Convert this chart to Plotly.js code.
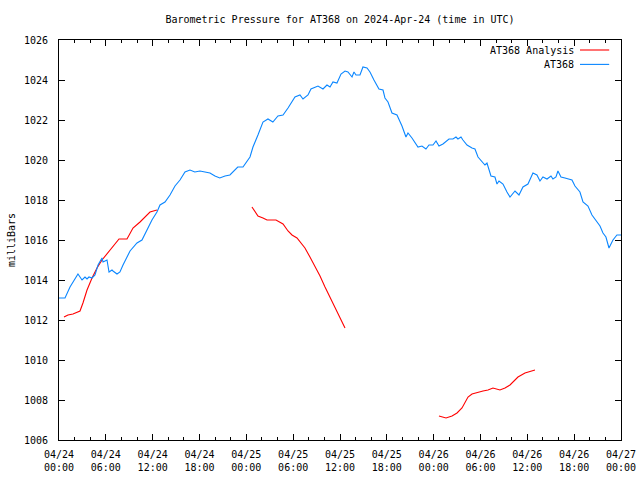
<!DOCTYPE html>
<html>
<head>
<meta charset="utf-8">
<script src="https://cdn.plot.ly/plotly-3.0.1.min.js"></script>
<style>html,body{margin:0;padding:0;background:#fff;}#chart{width:640px;height:480px;}</style>
</head>
<body>
<div id="chart"></div>
<script>
// ---- data (hours after 2024-04-24 00:00 UTC) ----
const baseTime = Date.UTC(2024, 3, 24, 0, 0, 0);

const obsName = "AT368";
const obsHours = [0, 0.77, 1.41, 2.05, 2.43, 2.95, 3.33, 3.59, 3.84, 4.23, 4.61, 5.0, 5.51, 5.64, 6.15, 6.41, 6.79, 6.92, 7.43, 7.81, 8.2, 9.1, 9.48, 9.99, 10.63, 11.27, 11.91, 12.55, 12.94, 13.58, 14.22, 14.86, 15.5, 16.14, 16.78, 17.4, 18.06, 18.7, 19.34, 19.98, 20.6, 21.27, 21.9, 22.9, 23.57, 24.47, 24.85, 25.49, 26.13, 26.77, 27.4, 28.05, 28.7, 29.34, 30.23, 30.87, 31.26, 31.9, 32.28, 33.18, 33.82, 34.33, 34.72, 35.1, 35.61, 36.13, 36.64, 37.02, 37.54, 37.79, 38.05, 38.56, 38.94, 39.46, 39.84, 40.35, 40.99, 41.51, 41.76, 42.15, 42.66, 43.3, 43.94, 44.45, 44.71, 45.22, 45.6, 45.99, 46.5, 47.01, 47.4, 47.91, 48.3, 48.68, 49.19, 49.96, 50.47, 50.86, 51.11, 51.5, 51.75, 52.27, 52.91, 53.29, 53.68, 54.19, 54.57, 54.83, 55.34, 55.85, 56.11, 56.37, 56.88, 57.39, 57.78, 58.42, 58.93, 59.44, 60.08, 60.72, 61.23, 61.62, 62.0, 62.52, 63.03, 63.28, 63.67, 63.92, 64.31, 64.82, 65.2, 65.72, 66.1, 66.74, 67.13, 67.77, 68.28, 68.92, 69.31, 69.69, 70.07, 70.46, 70.97, 71.48, 72.0];
const obsValues = [1013.1, 1013.1, 1013.65, 1014.1, 1014.3, 1014.0, 1014.15, 1014.05, 1014.15, 1014.1, 1014.25, 1014.75, 1015.1, 1014.9, 1015.0, 1014.4, 1014.5, 1014.45, 1014.3, 1014.4, 1014.75, 1015.45, 1015.6, 1015.85, 1016.0, 1016.5, 1017.0, 1017.4, 1017.75, 1017.9, 1018.25, 1018.7, 1019.0, 1019.4, 1019.5, 1019.4, 1019.45, 1019.4, 1019.35, 1019.2, 1019.1, 1019.2, 1019.25, 1019.65, 1019.65, 1020.15, 1020.65, 1021.25, 1021.9, 1022.05, 1021.9, 1022.2, 1022.25, 1022.6, 1023.15, 1023.25, 1023.05, 1023.25, 1023.55, 1023.7, 1023.55, 1023.75, 1023.65, 1023.9, 1023.85, 1024.3, 1024.45, 1024.4, 1024.15, 1024.4, 1024.25, 1024.25, 1024.65, 1024.6, 1024.4, 1024.0, 1023.55, 1023.5, 1023.1, 1022.9, 1022.35, 1022.25, 1021.7, 1021.15, 1021.35, 1021.1, 1020.9, 1020.65, 1020.7, 1020.55, 1020.75, 1020.75, 1020.95, 1020.7, 1020.8, 1021.05, 1021.05, 1021.15, 1021.05, 1021.15, 1021.0, 1020.75, 1020.6, 1020.55, 1020.15, 1019.9, 1019.75, 1019.85, 1019.2, 1019.15, 1018.8, 1018.95, 1018.8, 1018.4, 1018.15, 1018.45, 1018.25, 1018.65, 1018.8, 1019.35, 1019.25, 1018.95, 1019.15, 1019.05, 1019.2, 1019.05, 1019.15, 1019.45, 1019.15, 1019.1, 1019.05, 1019.0, 1018.7, 1018.4, 1017.9, 1017.7, 1017.25, 1016.9, 1016.7, 1016.35, 1016.15, 1015.6, 1016.0, 1016.25, 1016.25];

const anaName = "AT368 Analysis";
const anaHours = [0.64, 1.15, 1.79, 2.69, 3.07, 3.59, 4.23, 4.87, 5.51, 6.15, 6.79, 7.69, 8.71, 9.48, 10.38, 11.02, 11.66, 12.55, null,
  24.72, 25.49, 26.13, 26.65, 27.8, 28.31, 28.7, 29.34, 29.85, 30.49, 30.87, 31.51, 32.15, 32.8, 33.44, 34.08, 34.72, 35.36, 36.0, 36.64, null,
  48.68, 49.19, 49.58, 50.35, 50.99, 51.63, 52.01, 52.4, 52.91, 53.68, 54.32, 54.96, 55.6, 56.49, 57.14, 57.78, 58.16, 58.8, 59.7, 60.59, 60.98];
const anaValues = [1012.15, 1012.25, 1012.3, 1012.45, 1012.85, 1013.5, 1014.1, 1014.6, 1015.0, 1015.3, 1015.6, 1016.05, 1016.05, 1016.6, 1016.9, 1017.15, 1017.4, 1017.5, null,
  1017.65, 1017.2, 1017.1, 1017.0, 1017.0, 1016.9, 1016.8, 1016.45, 1016.25, 1016.1, 1015.9, 1015.6, 1015.15, 1014.7, 1014.2, 1013.65, 1013.15, 1012.65, 1012.1, 1011.6, null,
  1007.2, 1007.15, 1007.1, 1007.2, 1007.35, 1007.6, 1007.85, 1008.15, 1008.3, 1008.4, 1008.45, 1008.5, 1008.6, 1008.5, 1008.6, 1008.75, 1008.9, 1009.15, 1009.35, 1009.45, 1009.5];

const chartTitle = "Barometric Pressure for AT368 on 2024-Apr-24 (time in UTC)";
const yTitle = "milliBars";
const xRange = ["2024-04-24 00:00:00", "2024-04-27 00:00:00"];
const yRange = [1006, 1026];

// ---- helpers ----
function pad(n){ return String(n).padStart(2, "0"); }
function stamp(h){
  if (h === null) return null;
  const d = new Date(baseTime + Math.round(h * 3600000));
  return d.getUTCFullYear() + "-" + pad(d.getUTCMonth()+1) + "-" + pad(d.getUTCDate()) + " " +
         pad(d.getUTCHours()) + ":" + pad(d.getUTCMinutes()) + ":" + pad(d.getUTCSeconds());
}

const FONT = "DejaVu Sans Mono, Liberation Mono, monospace";
const redC = "#ff0000";
const blueC = "#0a86ff";

const traces = [
  { x: anaHours.map(stamp), y: anaValues, name: anaName, type: "scatter", mode: "lines",
    line: { color: redC, width: 1.1 }, connectgaps: false },
  { x: obsHours.map(stamp), y: obsValues, name: obsName, type: "scatter", mode: "lines",
    line: { color: blueC, width: 1.1 } }
];

const axisCommon = {
  showline: true, linecolor: "#000", linewidth: 1, mirror: "allticks",
  ticks: "inside", tickcolor: "#000", tickwidth: 1, ticklen: 6,
  showgrid: false, zeroline: false,
  tickfont: { family: FONT, size: 10, color: "#000" }
};

// custom gnuplot-style legend (text then sample line)
const legendItems = [traces[0], traces[1]];
const annotations = [];
const shapes = [];
legendItems.forEach((t, i) => {
  const yp = 0.975 - i * 0.036;
  annotations.push({ xref: "paper", yref: "paper", x: 0.92, y: yp, xanchor: "right", yanchor: "middle",
    text: t.name, showarrow: false, font: { family: FONT, size: 10, color: "#000" } });
  shapes.push({ type: "line", xref: "paper", yref: "paper", x0: 0.927, x1: 0.979, y0: yp, y1: yp,
    line: { color: t.line.color, width: 1.1 } });
});

const layout = {
  width: 640, height: 480,
  margin: { l: 59, r: 19, t: 40, b: 40, pad: 0 },
  paper_bgcolor: "#fff", plot_bgcolor: "#fff",
  showlegend: false,
  title: { text: chartTitle, font: { family: FONT, size: 10, color: "#000" },
    x: 0.5, xref: "paper", y: 1 - 19/480, yref: "container", yanchor: "middle" },
  xaxis: Object.assign({}, axisCommon, {
    type: "date", range: xRange, autorange: false,
    tick0: "2024-04-24 00:00:00", dtick: 6 * 3600000,
    tickformat: "%m/%d<br>%H:%M", ticklabelstandoff: 5,
    minor: { dtick: 2 * 3600000, tick0: "2024-04-24 00:00:00", ticks: "inside", ticklen: 3, tickcolor: "#000", showgrid: false }
  }),
  yaxis: Object.assign({}, axisCommon, {
    range: yRange, autorange: false, dtick: 2, tick0: 1006, ticklabelstandoff: 8,
    title: { text: yTitle, font: { family: FONT, size: 10, color: "#000" }, standoff: 6 }
  }),
  annotations: annotations,
  shapes: shapes
};

Plotly.newPlot("chart", traces, layout, { staticPlot: true, displayModeBar: false });
</script>
</body>
</html>
